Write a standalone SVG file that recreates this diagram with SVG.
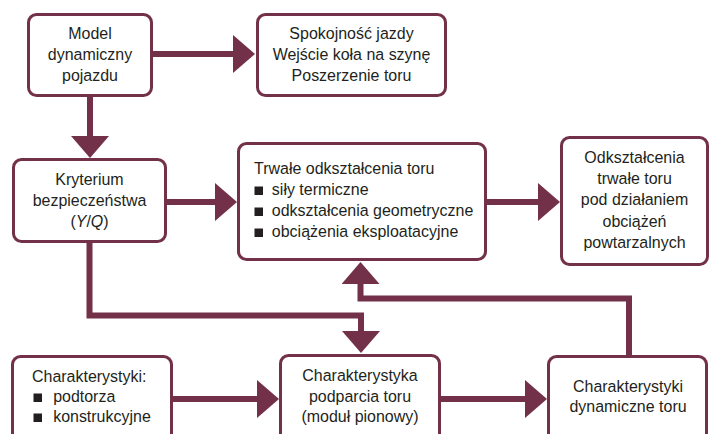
<svg xmlns="http://www.w3.org/2000/svg" width="713" height="434" viewBox="0 0 713 434">
<defs>
<style>
.box{fill:#fff;stroke:#733049;stroke-width:3}
.con{fill:none;stroke:#733049;stroke-width:6;stroke-linejoin:miter}
.t{font-family:"Liberation Sans",Arial,sans-serif;font-size:17px;fill:#231f20}
.c{text-anchor:middle}
.b{fill:#231f20}
</style>
<marker id="ah" viewBox="0 0 22 38" markerWidth="22" markerHeight="38" refX="0" refY="19" orient="auto" markerUnits="userSpaceOnUse">
<path d="M0,0 L22,19 L0,38 Z" fill="#733049"/>
</marker>
</defs>
<rect width="713" height="434" fill="#fff"/>
<g id="connectors">
<path class="con" d="M153,54 H233" marker-end="url(#ah)"/>
<path class="con" d="M90,97 V136" marker-end="url(#ah)"/>
<path class="con" d="M167,202 H215" marker-end="url(#ah)"/>
<path class="con" d="M487,202 H538" marker-end="url(#ah)"/>
<path class="con" d="M89.5,243 V315.5 H361 V331" marker-end="url(#ah)"/>
<path class="con" d="M629,355 V298.5 H360.5 V284" marker-end="url(#ah)"/>
<path class="con" d="M173,399 H257" marker-end="url(#ah)"/>
<path class="con" d="M441,399 H525" marker-end="url(#ah)"/>
</g>
<g id="model">
<rect class="box" x="28.5" y="14.5" width="123" height="81" rx="8"/>
<text class="t c" transform="translate(90,0) scale(0.94,1)"><tspan x="0" y="39">Model</tspan><tspan x="0" y="60">dynamiczny</tspan><tspan x="0" y="81">pojazdu</tspan></text>
</g>
<g id="spokojnosc">
<rect class="box" x="257.5" y="14.5" width="188" height="81" rx="8"/>
<text class="t c" transform="translate(351.5,0) scale(0.94,1)"><tspan x="0" y="39">Spokojność jazdy</tspan><tspan x="0" y="60">Wejście koła na szynę</tspan><tspan x="0" y="81">Poszerzenie toru</tspan></text>
</g>
<g id="kryterium">
<rect class="box" x="13.5" y="159.5" width="152" height="82" rx="8"/>
<text class="t c" transform="translate(89.5,0) scale(0.94,1)"><tspan x="0" y="185">Kryterium</tspan><tspan x="0" y="206">bezpieczeństwa</tspan><tspan x="0" y="227">(<tspan font-style="italic">Y</tspan>/<tspan font-style="italic">Q</tspan>)</tspan></text>
</g>
<g id="trwale">
<rect class="box" x="238.5" y="143.5" width="247" height="116" rx="8"/>
<text class="t" transform="translate(254,0) scale(0.94,1)"><tspan x="0" y="174">Trwałe odkształcenia toru</tspan><tspan x="19" y="195">siły termiczne</tspan><tspan x="19" y="216">odkształcenia geometryczne</tspan><tspan x="19" y="237">obciążenia eksploatacyjne</tspan></text>
<rect class="b" x="254.5" y="186.5" width="8.5" height="8.5"/>
<rect class="b" x="254.5" y="207.5" width="8.5" height="8.5"/>
<rect class="b" x="254.5" y="228.5" width="8.5" height="8.5"/>
</g>
<g id="odksztalcenia">
<rect class="box" x="561.5" y="137.5" width="146" height="127" rx="8"/>
<text class="t c" transform="translate(634.5,0) scale(0.94,1)"><tspan x="0" y="163">Odkształcenia</tspan><tspan x="0" y="184">trwałe toru</tspan><tspan x="0" y="205">pod działaniem</tspan><tspan x="0" y="227">obciążeń</tspan><tspan x="0" y="248">powtarzalnych</tspan></text>
</g>
<g id="charakterystyki">
<rect class="box" x="12.5" y="356.5" width="159" height="100" rx="8"/>
<text class="t" transform="translate(32,0) scale(0.94,1)"><tspan x="0" y="382">Charakterystyki:</tspan><tspan x="22.5" y="402">podtorza</tspan><tspan x="22.5" y="422">konstrukcyjne</tspan></text>
<rect class="b" x="33.5" y="393.5" width="8.5" height="8.5"/>
<rect class="b" x="33.5" y="413.5" width="8.5" height="8.5"/>
</g>
<g id="podparcie">
<rect class="box" x="280.5" y="355.5" width="159" height="100" rx="8"/>
<text class="t c" transform="translate(360,0) scale(0.94,1)"><tspan x="0" y="381">Charakterystyka</tspan><tspan x="0" y="402">podparcia toru</tspan><tspan x="0" y="422">(moduł pionowy)</tspan></text>
</g>
<g id="dynamiczne">
<rect class="box" x="548.5" y="356.5" width="158" height="100" rx="8"/>
<text class="t c" transform="translate(628,0) scale(0.94,1)"><tspan x="0" y="392">Charakterystyki</tspan><tspan x="0" y="412">dynamiczne toru</tspan></text>
</g>
</svg>
